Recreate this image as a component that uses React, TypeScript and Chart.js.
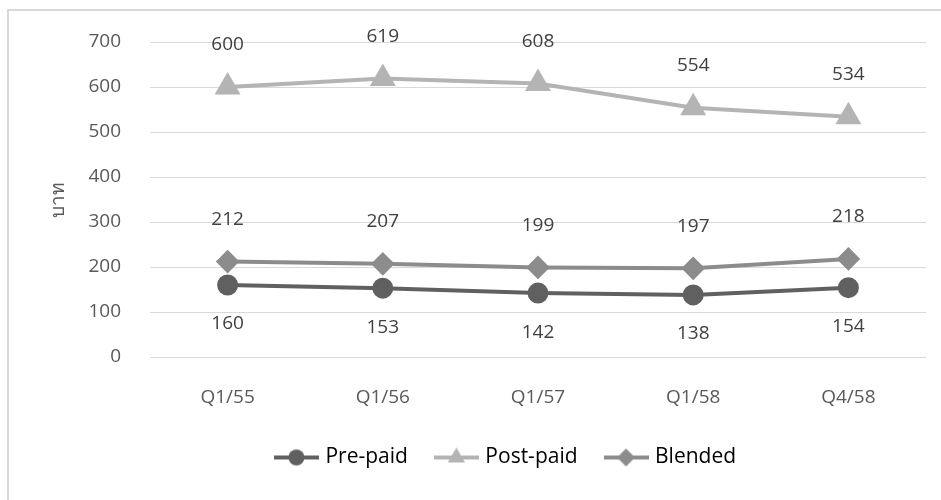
import React, { useEffect, useRef } from "react";
import { Chart, registerables } from "chart.js";

Chart.register(...registerables);

// ARPU by quarter (บาท)
const quarters = ["Q1/55", "Q1/56", "Q1/57", "Q1/58", "Q4/58"];
const prePaid = [160, 153, 142, 138, 154];
const postPaid = [600, 619, 608, 554, 534];
const blended = [212, 207, 199, 197, 218];

const yMin = 0;
const yMax = 700;
const yStep = 100;

const FONT = '"Open Sans", "Noto Sans", "DejaVu Sans", sans-serif';
const TEXT = "#595959";
const LABEL_TEXT = "#404040";

const COLOR_PRE = "#606060";
const COLOR_POST = "#b4b4b4";
const COLOR_BLEND = "#8c8c8c";

type Marker = "circle" | "triangle" | "rectRot";

// Small "line + marker" swatch used as the legend point style
function makeSwatch(color: string, marker: Marker, r: number): HTMLCanvasElement {
  const c = document.createElement("canvas");
  c.width = 45;
  c.height = 22;
  const ctx = c.getContext("2d")!;
  const cx = c.width / 2;
  const cy = c.height / 2;
  ctx.strokeStyle = color;
  ctx.fillStyle = color;
  ctx.lineWidth = 4;
  ctx.beginPath();
  ctx.moveTo(0, cy);
  ctx.lineTo(c.width, cy);
  ctx.stroke();
  ctx.beginPath();
  if (marker === "circle") {
    ctx.arc(cx, cy, r, 0, Math.PI * 2);
  } else if (marker === "triangle") {
    ctx.moveTo(cx, cy - r);
    ctx.lineTo(cx + r * Math.sin(Math.PI / 3), cy + r / 2);
    ctx.lineTo(cx - r * Math.sin(Math.PI / 3), cy + r / 2);
    ctx.closePath();
  } else {
    ctx.moveTo(cx - r, cy);
    ctx.lineTo(cx, cy - r);
    ctx.lineTo(cx + r, cy);
    ctx.lineTo(cx, cy + r);
    ctx.closePath();
  }
  ctx.fill();
  return c;
}

// White page with the light frame around the chart
const framePlugin = {
  id: "frame",
  beforeDraw(chart: any) {
    const { ctx, width, height } = chart;
    ctx.save();
    ctx.fillStyle = "#ffffff";
    ctx.fillRect(0, 0, width, height);
    ctx.strokeStyle = "#d9d9d9";
    ctx.lineWidth = 2;
    ctx.beginPath();
    ctx.moveTo(8, height + 2);
    ctx.lineTo(8, 10);
    ctx.lineTo(width + 2, 10);
    ctx.stroke();
    ctx.restore();
  },
};

// Value labels drawn above / below each point
const valueLabels = {
  id: "valueLabels",
  afterDatasetsDraw(chart: any) {
    const { ctx } = chart;
    ctx.save();
    ctx.font = `19px ${FONT}`;
    ctx.fillStyle = LABEL_TEXT;
    ctx.textAlign = "center";
    ctx.textBaseline = "middle";
    chart.data.datasets.forEach((ds: any, i: number) => {
      const meta = chart.getDatasetMeta(i);
      const shift = ds.labelShift ?? -42;
      meta.data.forEach((pt: any, j: number) => {
        ctx.fillText(String(ds.data[j]), pt.x, pt.y + shift);
      });
    });
    ctx.restore();
  },
};

export default function App() {
  const canvasRef = useRef<HTMLCanvasElement | null>(null);

  useEffect(() => {
    if (!canvasRef.current) return;

    const swatches = [
      makeSwatch(COLOR_PRE, "circle", 8),
      makeSwatch(COLOR_POST, "triangle", 10),
      makeSwatch(COLOR_BLEND, "rectRot", 9),
    ];

    const chart = new Chart(canvasRef.current, {
      type: "line",
      data: {
        labels: quarters,
        datasets: [
          {
            label: "Pre-paid",
            data: prePaid,
            borderColor: COLOR_PRE,
            backgroundColor: COLOR_PRE,
            pointBackgroundColor: COLOR_PRE,
            pointBorderColor: COLOR_PRE,
            pointStyle: "circle",
            pointRadius: 8.5,
            borderWidth: 4,
            labelShift: 39,
          } as any,
          {
            label: "Post-paid",
            data: postPaid,
            borderColor: COLOR_POST,
            backgroundColor: COLOR_POST,
            pointBackgroundColor: COLOR_POST,
            pointBorderColor: COLOR_POST,
            pointStyle: "triangle",
            pointRadius: 11,
            borderWidth: 4,
            labelShift: -42,
          } as any,
          {
            label: "Blended",
            data: blended,
            borderColor: COLOR_BLEND,
            backgroundColor: COLOR_BLEND,
            pointBackgroundColor: COLOR_BLEND,
            pointBorderColor: COLOR_BLEND,
            pointStyle: "rectRot",
            pointRadius: 9,
            borderWidth: 4,
            labelShift: -42,
          } as any,
        ],
      },
      options: {
        responsive: false,
        animation: false,
        layout: { padding: { left: 84, right: 11, top: 42, bottom: 22 } },
        elements: {
          line: { tension: 0 },
          point: { borderWidth: 1, hoverRadius: 9 },
        },
        plugins: {
          tooltip: { enabled: false },
          legend: {
            position: "bottom",
            labels: {
              usePointStyle: true,
              pointStyleWidth: 37,
              padding: 30,
              color: TEXT,
              font: { family: FONT, size: 21 },
              generateLabels: (c: any) =>
                c.data.datasets.map((ds: any, i: number) => ({
                  text: ds.label,
                  pointStyle: swatches[i],
                  fillStyle: ds.borderColor,
                  strokeStyle: ds.borderColor,
                  lineWidth: 0,
                  hidden: false,
                  datasetIndex: i,
                })),
            },
          },
        },
        scales: {
          x: {
            type: "category",
            offset: true,
            grid: { display: false },
            border: { display: false },
            ticks: {
              color: TEXT,
              padding: 21,
              font: { family: FONT, size: 19 },
            },
            afterFit: (s: any) => {
              s.height = 60;
            },
          },
          y: {
            min: yMin,
            max: yMax,
            border: { display: false },
            grid: { color: "#d9d9d9", lineWidth: 1, drawTicks: false },
            ticks: {
              stepSize: yStep,
              color: TEXT,
              padding: 29,
              font: { family: FONT, size: 19 },
            },
            title: {
              display: true,
              text: "บาท",
              color: TEXT,
              font: { family: FONT, size: 19 },
              padding: { top: -37, bottom: 0 },
            },
            afterFit: (s: any) => {
              s.width = 66;
            },
          },
        },
      },
      plugins: [framePlugin, valueLabels],
    });

    return () => chart.destroy();
  }, []);

  return (
    <div style={{ position: "absolute", left: 0, top: 0, width: 941, height: 500, background: "#fff" }}>
      <canvas ref={canvasRef} width={941} height={500} style={{ display: "block" }} />
    </div>
  );
}
